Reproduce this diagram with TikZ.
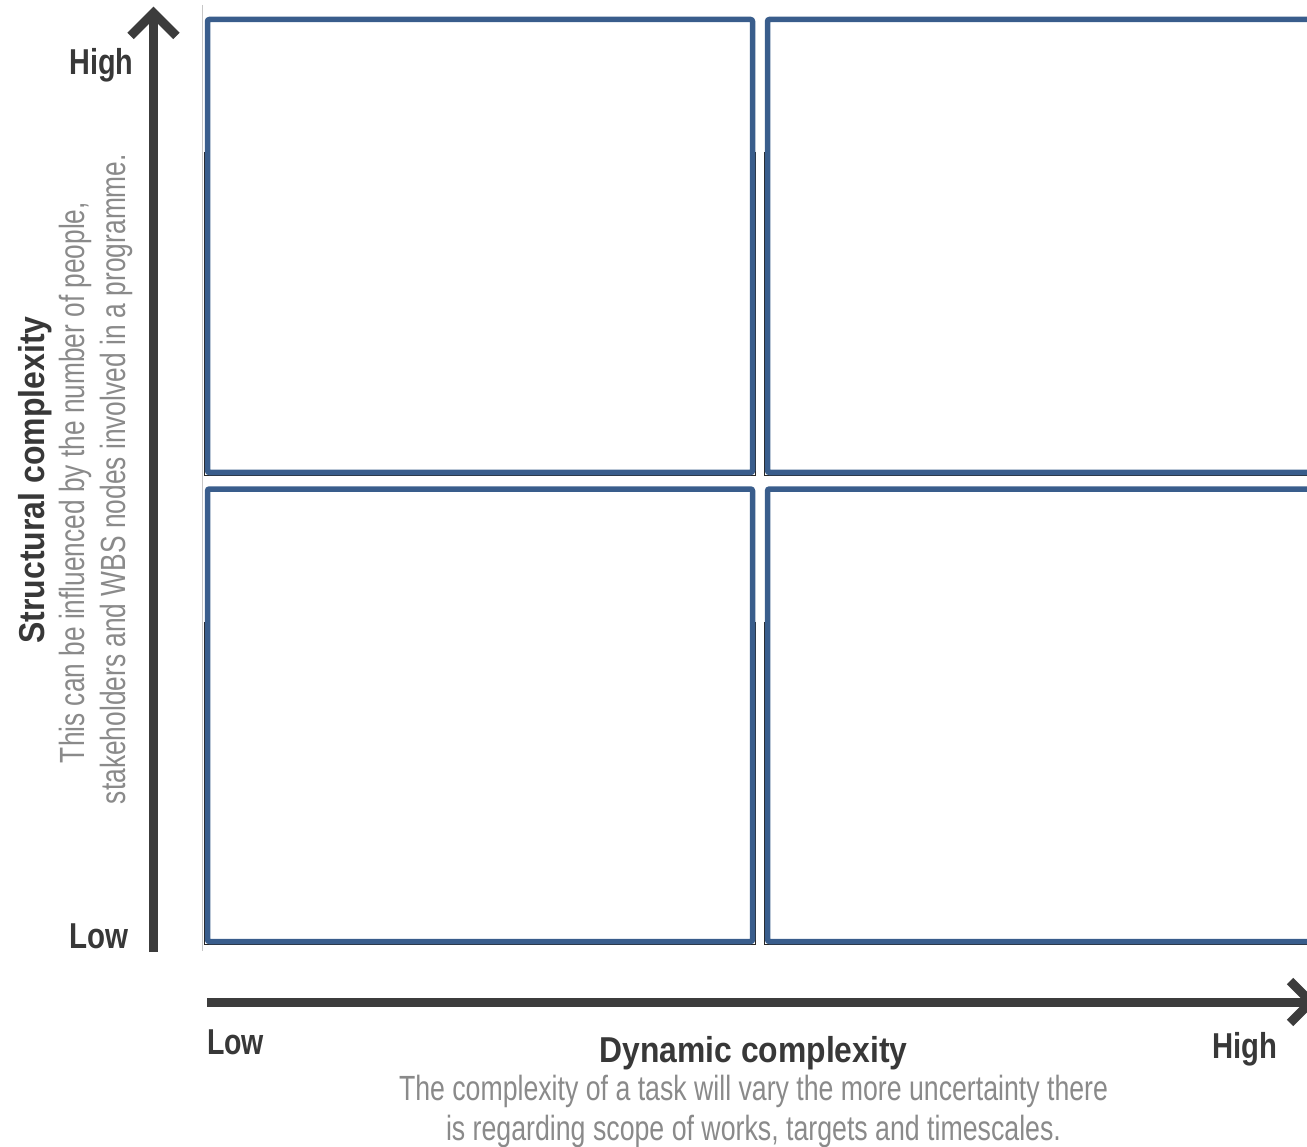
\documentclass[tikz,border=0pt]{standalone}
\usepackage{fontspec}
\setmainfont{Liberation Sans}
\usepackage{graphicx}
\definecolor{qblue}{HTML}{395D8C}
\definecolor{axisgrey}{HTML}{3C3C3C}
\definecolor{darktext}{HTML}{383838}
\definecolor{lighttext}{HTML}{8A8A8A}
\newcommand{\fitw}[2]{\resizebox{#1}{\height}{#2}}
\tikzset{
  quad/.style={draw=qblue, line width=5.5pt, rounded corners=2pt},
  quadshadow/.style={draw=black!85, line width=1.3pt},
  axisline/.style={draw=axisgrey, line width=9pt, line cap=butt},
  axishead/.style={draw=axisgrey, line width=9pt, line cap=butt, line join=miter},
  boldlabel/.style={inner sep=0pt, anchor=base, text=darktext, font=\fontsize{36}{40}\selectfont\bfseries},
  greylabel/.style={inner sep=0pt, anchor=base, text=lighttext, font=\fontsize{35}{40}\selectfont},
}
\begin{document}
\begin{tikzpicture}[x=1pt, y=-1pt]
\useasboundingbox (0,0) rectangle (1307,1147);
% thin grey guide line
\coordinate (gtop) at (202.5,5);
\coordinate (gbot) at (202.5,951);
\draw[gray!45, line width=1pt] (gtop) -- (gbot);
% quadrant shadows
\foreach \xa/\ya/\xb/\yb in {207.5/19.5/752.5/472.5, 767.5/19.5/1320/472.5, 207.5/489/752.5/941.5, 767.5/489/1320/941.5}{
  \draw[quadshadow] (\xa-3.2,\ya+133) -- (\xa-3.2,\yb+3.2) -- (\xb+3.2,\yb+3.2) -- (\xb+3.2,\ya+133);
}
% quadrants
\draw[quad] (207.5,19.5) rectangle (752.5,472.5);
\draw[quad] (767.5,19.5) rectangle (1320,472.5);
\draw[quad] (207.5,489) rectangle (752.5,941.5);
\draw[quad] (767.5,489) rectangle (1320,941.5);
% vertical axis
\coordinate (ybot) at (153.5,952);
\coordinate (ytop) at (153.5,14);
\coordinate (ytip) at (153.5,13);
\coordinate (yarmL) at (130.5,36);
\coordinate (yarmR) at (176.5,36);
\draw[axisline] (ybot) -- (ytop);
\draw[axishead] (yarmL) -- (ytip) -- (yarmR);
% horizontal axis
\coordinate (xleft) at (207,1002);
\coordinate (xright) at (1310,1002);
\coordinate (xtip) at (1311,1002);
\coordinate (xarmU) at (1290,981);
\coordinate (xarmD) at (1290,1023);
\draw[axisline] (xleft) -- (xright);
\draw[axishead] (xarmU) -- (xtip) -- (xarmD);
% axis end labels
\node[boldlabel] (yhigh) at (101.5,74.5) {\fitw{64pt}{High}};
\node[boldlabel] (ylow) at (99,948) {\fitw{59pt}{Low}};
\node[boldlabel] (xlow) at (235.5,1054) {\fitw{57pt}{Low}};
\node[boldlabel] (xhigh) at (1245,1058) {\fitw{65pt}{High}};
% horizontal axis title
\node[boldlabel] (xtitle) at (753.5,1062) {\fitw{308pt}{Dynamic complexity}};
\node[greylabel] (xdesc1) at (753.5,1100) {\fitw{709pt}{The complexity of a task will vary the more uncertainty there}};
\node[greylabel] (xdesc2) at (753.5,1140) {\fitw{615pt}{is regarding scope of works, targets and timescales.}};
% vertical axis title
\node[boldlabel, rotate=90] (ytitle) at (44,480) {\fitw{327pt}{Structural complexity}};
\node[greylabel, rotate=90] (ydesc1) at (84,482.5) {\fitw{561pt}{This can be influenced by the number of people,}};
\node[greylabel, rotate=90] (ydesc2) at (125,479) {\fitw{650pt}{stakeholders and WBS nodes involved in a programme.}};
\end{tikzpicture}
\end{document}
